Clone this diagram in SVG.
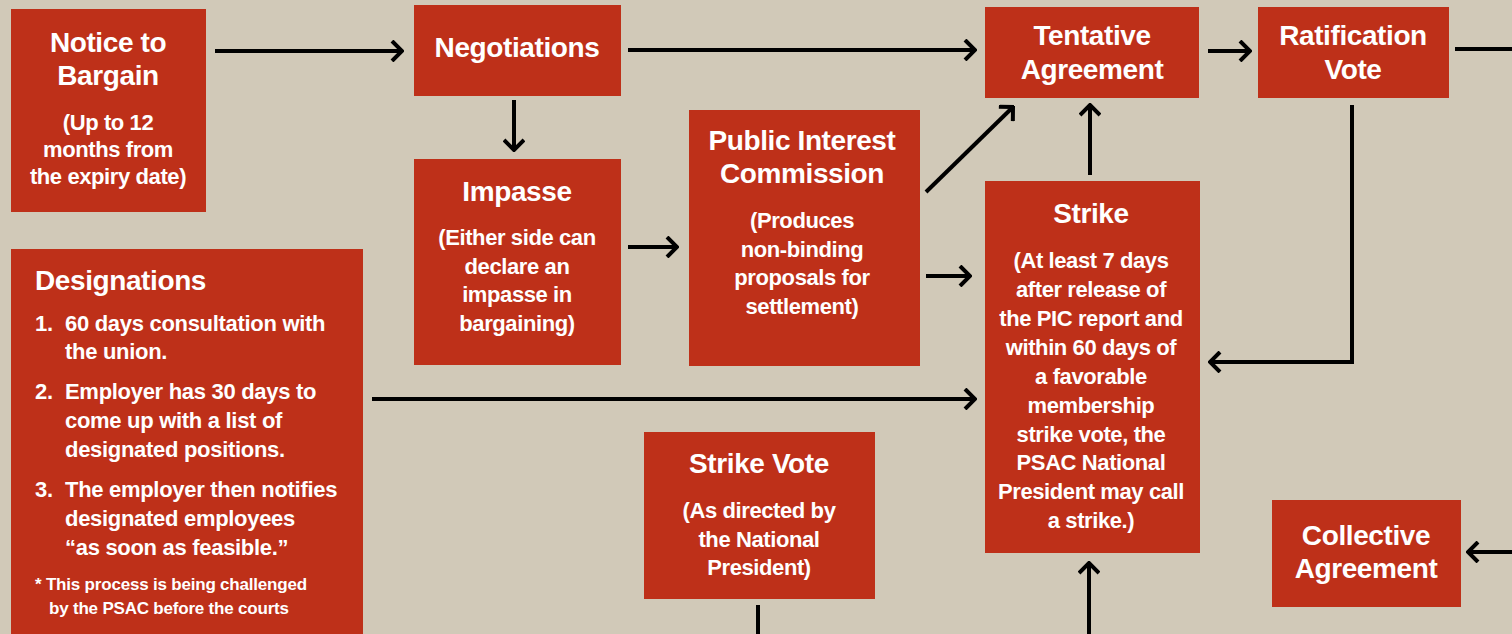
<svg xmlns="http://www.w3.org/2000/svg" width="1512" height="634" viewBox="0 0 1512 634">
<style>
.box{fill:#BE3019}
text{font-family:"Liberation Sans Narrow","Liberation Sans",Arial,sans-serif;font-weight:bold;fill:#fff}
.t{font-size:28px;text-anchor:middle;letter-spacing:-0.4px}
.s{font-size:22px;text-anchor:middle;letter-spacing:-0.4px}
.l{font-size:22px;letter-spacing:-0.3px}
.f{font-size:17px;letter-spacing:-0.2px}
.c{stroke:#000;stroke-width:4;fill:none}
</style>
<defs>
<marker id="ah" viewBox="0 0 14 22" refX="12" refY="11" markerWidth="14" markerHeight="22" markerUnits="userSpaceOnUse" orient="auto">
<path d="M2,1 L12,11 L2,21" fill="none" stroke="#000" stroke-width="4"/>
</marker>
</defs>
<rect width="1512" height="634" fill="#D1C9B8"/>
<g id="connectors">
<line class="c" x1="215" y1="51" x2="402" y2="51" marker-end="url(#ah)"/>
<line class="c" x1="628" y1="50" x2="975" y2="50" marker-end="url(#ah)"/>
<line class="c" x1="1208" y1="51" x2="1250" y2="51" marker-end="url(#ah)"/>
<line class="c" x1="1455" y1="49" x2="1512" y2="49"/>
<line class="c" x1="514" y1="100" x2="514" y2="150" marker-end="url(#ah)"/>
<line class="c" x1="628" y1="247" x2="677" y2="247" marker-end="url(#ah)"/>
<line class="c" x1="926" y1="276" x2="970" y2="276" marker-end="url(#ah)"/>
<line class="c" x1="926" y1="192" x2="1013" y2="107" marker-end="url(#ah)"/>
<line class="c" x1="1090" y1="175" x2="1090" y2="105" marker-end="url(#ah)"/>
<polyline class="c" points="1352,105 1352,362 1210,362" marker-end="url(#ah)"/>
<line class="c" x1="372" y1="399" x2="975" y2="399" marker-end="url(#ah)"/>
<line class="c" x1="758" y1="605" x2="758" y2="634"/>
<line class="c" x1="1089" y1="634" x2="1089" y2="563" marker-end="url(#ah)"/>
<line class="c" x1="1512" y1="552" x2="1468" y2="552" marker-end="url(#ah)"/>
</g>
<g id="notice">
<rect class="box" x="11" y="9" width="195" height="203"/>
<text class="t" x="108" y="52">Notice to</text>
<text class="t" x="108" y="85">Bargain</text>
<text class="s" x="108" y="130">(Up to 12</text>
<text class="s" x="108" y="157">months from</text>
<text class="s" x="108" y="184">the expiry date)</text>
</g>
<g id="negotiations">
<rect class="box" x="414" y="5" width="207" height="91"/>
<text class="t" x="517" y="57">Negotiations</text>
</g>
<g id="tentative">
<rect class="box" x="985" y="7" width="214" height="91"/>
<text class="t" x="1092" y="45">Tentative</text>
<text class="t" x="1092" y="79">Agreement</text>
</g>
<g id="ratification">
<rect class="box" x="1258" y="7" width="191" height="91"/>
<text class="t" x="1353" y="45">Ratification</text>
<text class="t" x="1353" y="79">Vote</text>
</g>
<g id="impasse">
<rect class="box" x="414" y="159" width="207" height="206"/>
<text class="t" x="517" y="201">Impasse</text>
<text class="s" x="517" y="245">(Either side can</text>
<text class="s" x="517" y="274">declare an</text>
<text class="s" x="517" y="302">impasse in</text>
<text class="s" x="517" y="331">bargaining)</text>
</g>
<g id="pic">
<rect class="box" x="689" y="110" width="231" height="256"/>
<text class="t" x="802" y="150">Public Interest</text>
<text class="t" x="802" y="183">Commission</text>
<text class="s" x="802" y="228">(Produces</text>
<text class="s" x="802" y="257">non-binding</text>
<text class="s" x="802" y="285">proposals for</text>
<text class="s" x="802" y="314">settlement)</text>
</g>
<g id="strike">
<rect class="box" x="985" y="181" width="215" height="372"/>
<text class="t" x="1091" y="223">Strike</text>
<text class="s" x="1091" y="268">(At least 7 days</text>
<text class="s" x="1091" y="297">after release of</text>
<text class="s" x="1091" y="326">the PIC report and</text>
<text class="s" x="1091" y="355">within 60 days of</text>
<text class="s" x="1091" y="384">a favorable</text>
<text class="s" x="1091" y="413">membership</text>
<text class="s" x="1091" y="442">strike vote, the</text>
<text class="s" x="1091" y="470">PSAC National</text>
<text class="s" x="1091" y="499">President may call</text>
<text class="s" x="1091" y="528">a strike.)</text>
</g>
<g id="designations">
<rect class="box" x="11" y="249" width="352" height="390"/>
<text x="35" y="290" style="font-size:28px;letter-spacing:-0.4px">Designations</text>
<text class="l" x="35" y="331">1.</text>
<text class="l" x="65" y="331">60 days consultation with</text>
<text class="l" x="65" y="359">the union.</text>
<text class="l" x="35" y="399">2.</text>
<text class="l" x="65" y="399">Employer has 30 days to</text>
<text class="l" x="65" y="428">come up with a list of</text>
<text class="l" x="65" y="457">designated positions.</text>
<text class="l" x="35" y="497">3.</text>
<text class="l" x="65" y="497">The employer then notifies</text>
<text class="l" x="65" y="526">designated employees</text>
<text class="l" x="65" y="555">“as soon as feasible.”</text>
<text class="f" x="35" y="590">* This process is being challenged</text>
<text class="f" x="49" y="614">by the PSAC before the courts</text>
</g>
<g id="strikevote">
<rect class="box" x="644" y="432" width="231" height="167"/>
<text class="t" x="759" y="473">Strike Vote</text>
<text class="s" x="759" y="518">(As directed by</text>
<text class="s" x="759" y="547">the National</text>
<text class="s" x="759" y="575">President)</text>
</g>
<g id="collective">
<rect class="box" x="1272" y="500" width="189" height="107"/>
<text class="t" x="1366" y="545">Collective</text>
<text class="t" x="1366" y="578">Agreement</text>
</g>
</svg>
